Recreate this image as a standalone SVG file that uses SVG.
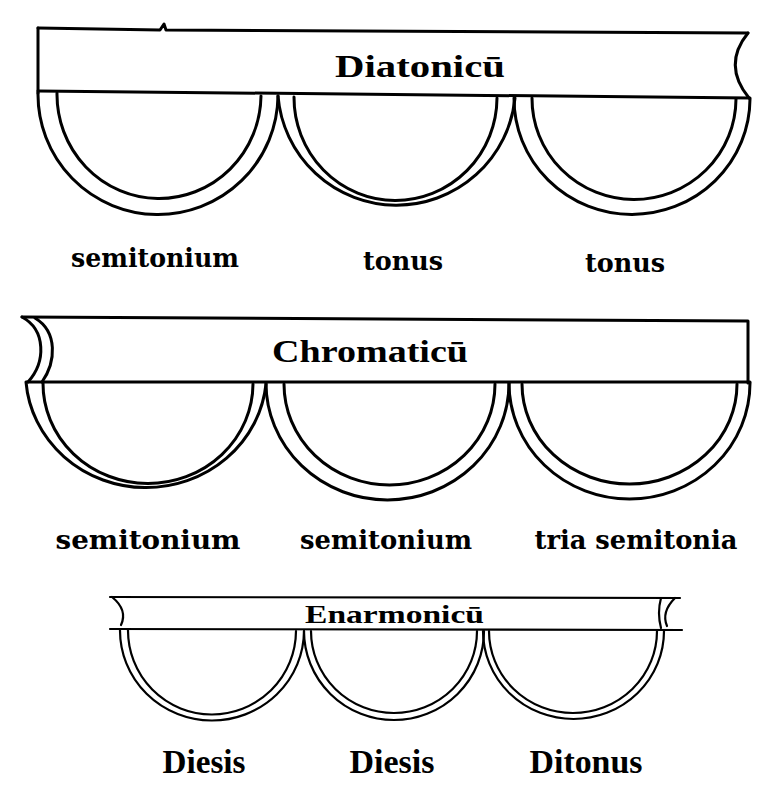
<svg xmlns="http://www.w3.org/2000/svg" width="779" height="785" viewBox="0 0 779 785">
<style>
  .ln{fill:none;stroke:#000;stroke-width:3;stroke-linecap:round;stroke-linejoin:round}
  .ln3{fill:none;stroke:#000;stroke-width:2.2;stroke-linecap:round;stroke-linejoin:round}
  .lab{font-family:"DejaVu Serif",serif;font-weight:bold;font-size:26px;fill:#000;text-anchor:middle}
  .lab3{font-family:"Liberation Serif",serif;font-weight:bold;font-size:33px;fill:#000;text-anchor:middle}
  .ttl{font-family:"Liberation Serif",serif;font-weight:bold;fill:#000}
</style>
<rect width="779" height="785" fill="#fff"/>

<!-- Row 1: Diatonicum -->
<g id="diatonicum">
  <g id="banner1">
    <path class="ln" d="M38,28 L160,30 L164,24 L166,30 L748,33"/>
    <path class="ln" d="M38,28 L38,93"/>
    <path class="ln" d="M748,33 Q722,65 749,98"/>
    <path class="ln" d="M38,91 L750,98"/>
    <text class="ttl" x="335" y="77" font-size="32" textLength="170" lengthAdjust="spacingAndGlyphs">Diatonicū</text>
  </g>
  <g id="d-arc1">
    <path class="ln" d="M38,93 A120,120 0 0 0 278,96"/>
    <path class="ln" d="M57,93 A102,104 0 0 0 261,96"/>
  </g>
  <g id="d-arc2">
    <path class="ln" d="M278,96 A119,119 0 0 0 515,98"/>
    <path class="ln" d="M294,97 A101.5,103 0 0 0 497,98"/>
  </g>
  <g id="d-arc3">
    <path class="ln" d="M514,98 A118,116 0 0 0 750,99"/>
    <path class="ln" d="M532,98 A102,101 0 0 0 736,99"/>
  </g>
  <text class="lab" x="155" y="267" textLength="168" lengthAdjust="spacingAndGlyphs">semitonium</text>
  <text class="lab" x="403" y="270" textLength="80" lengthAdjust="spacingAndGlyphs">tonus</text>
  <text class="lab" x="625" y="272" textLength="80" lengthAdjust="spacingAndGlyphs">tonus</text>
</g>

<!-- Row 2: Chromaticum -->
<g id="chromaticum">
  <g id="banner2">
    <path class="ln" d="M22,317 L748,321 L748,383"/>
    <path class="ln" d="M22,317 C46,330 46,362 28,382"/>
    <path class="ln" d="M35,318 C58,332 56,362 42,382"/>
    <path class="ln" d="M27,382 L750,382"/>
    <text class="ttl" x="272" y="362" font-size="32" textLength="196" lengthAdjust="spacingAndGlyphs">Chromaticū</text>
  </g>
  <g id="c-arc1">
    <path class="ln" d="M26,382 A120.5,115 0 0 0 266,384"/>
    <path class="ln" d="M43,383 A105,100 0 0 0 253,384"/>
  </g>
  <g id="c-arc2">
    <path class="ln" d="M266,383 A121.5,117 0 0 0 509,383"/>
    <path class="ln" d="M284,384 A105.5,101 0 0 0 495,384"/>
  </g>
  <g id="c-arc3">
    <path class="ln" d="M509,383 A120.5,116 0 0 0 750,383"/>
    <path class="ln" d="M522,384 A107.5,100 0 0 0 737,384"/>
  </g>
  <text class="lab" x="148" y="549" textLength="185" lengthAdjust="spacingAndGlyphs">semitonium</text>
  <text class="lab" x="386" y="549" textLength="172" lengthAdjust="spacingAndGlyphs">semitonium</text>
  <text class="lab" x="636" y="549" textLength="203" lengthAdjust="spacingAndGlyphs">tria semitonia</text>
</g>

<!-- Row 3: Enarmonicum -->
<g id="enarmonicum">
  <g id="banner3">
    <path class="ln3" d="M110,597 L680,598"/>
    <path class="ln3" d="M110,629 L682,630"/>
    <path class="ln3" d="M112,597 Q128,610 121,625"/>
    <path class="ln3" d="M661,598 Q657,613 661,628"/>
    <path class="ln3" d="M675,598 Q661,612 667,626"/>
    <text class="ttl" x="305" y="623" font-size="25" textLength="179" lengthAdjust="spacingAndGlyphs">Enarmonicū</text>
  </g>
  <g id="e-arc1">
    <path class="ln3" d="M120,630 A92,90 0 0 0 304,631"/>
    <path class="ln3" d="M128,630 A84,84 0 0 0 296,631"/>
  </g>
  <g id="e-arc2">
    <path class="ln3" d="M304,631 A90,89 0 0 0 484,631"/>
    <path class="ln3" d="M311,631 A83,82 0 0 0 477,631"/>
  </g>
  <g id="e-arc3">
    <path class="ln3" d="M483,631 A90.5,88 0 0 0 664,631"/>
    <path class="ln3" d="M489,631 A84,82 0 0 0 657,631"/>
  </g>
  <text class="lab3" x="204" y="773" textLength="83" lengthAdjust="spacingAndGlyphs">Diesis</text>
  <text class="lab3" x="392" y="773" textLength="85" lengthAdjust="spacingAndGlyphs">Diesis</text>
  <text class="lab3" x="586" y="773" textLength="113" lengthAdjust="spacingAndGlyphs">Ditonus</text>
</g>
</svg>
